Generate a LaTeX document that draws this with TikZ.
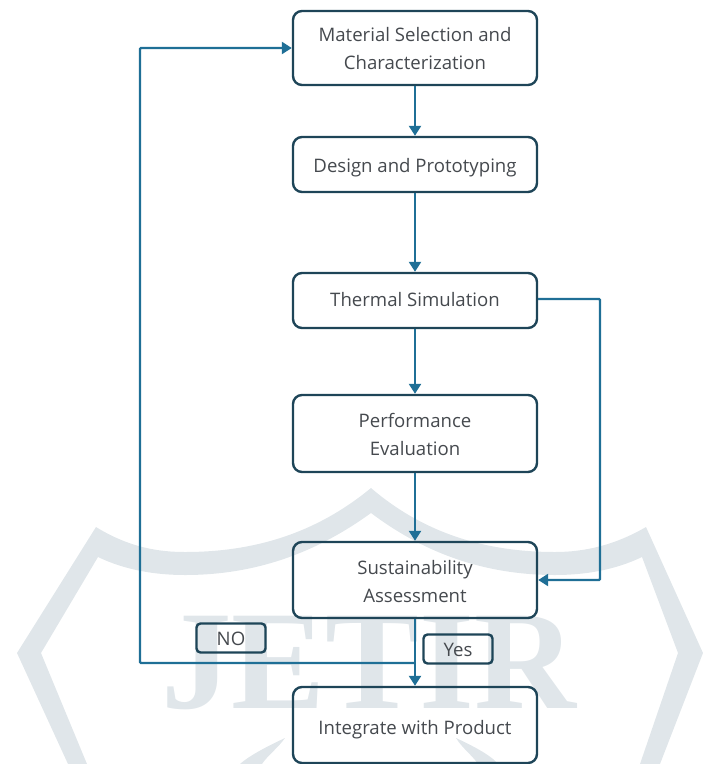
\documentclass[tikz,border=0pt]{standalone}
\usepackage{fontspec}
\setmainfont{Open Sans}
\newfontfamily\wmfont{Liberation Serif}
\usetikzlibrary{arrows.meta,calc}
\definecolor{boxline}{HTML}{1E4558}
\definecolor{flow}{HTML}{1F6F96}
\definecolor{wm}{HTML}{E0E6EA}
\definecolor{txt}{HTML}{45494E}
\tikzset{
  px/.style={x=1pt,y=-1pt},
  stepbox/.style={draw=boxline,line width=2.4pt,rounded corners=9pt,text=txt,font=\fontsize{18.6}{28}\selectfont,align=center,minimum width=244pt,inner sep=0pt},
  tagbox/.style={draw=boxline,line width=2.4pt,rounded corners=4pt,text=txt,font=\fontsize{18.6}{18}\selectfont,minimum width=69pt,minimum height=29pt,inner sep=0pt},
  flowline/.style={draw=flow,line width=2.4pt,-{Triangle[length=10pt,width=12pt]}},
  wmband/.style={fill=wm,draw=none}
}
\begin{document}
\begin{tikzpicture}[px]
\useasboundingbox (0,0) rectangle (715,764);
% watermark shield
\clip (0,0) rectangle (715,764);
\fill[wmband] (96,527) .. controls (130,548) and (160,552) .. (185,552)
  .. controls (260,552) and (320,530) .. (371,488)
  .. controls (420,530) and (480,552) .. (555,552)
  .. controls (585,552) and (615,545) .. (646,527)
  -- (703,653) -- (660,764) -- (640,764) -- (678,653) -- (642,557)
  .. controls (615,570) and (585,575) .. (555,575)
  .. controls (480,575) and (420,550) .. (371,513)
  .. controls (320,550) and (260,575) .. (185,575)
  .. controls (155,575) and (125,570) .. (98,557)
  -- (41,653) -- (87,764) -- (68,764) -- (17,653) -- cycle;
\fill[wmband] (285,738) .. controls (270,745) and (250,755) .. (240,764) -- (262,764) .. controls (268,755) and (278,748) .. (285,738) -- cycle;
\fill[wmband] (456,738) .. controls (471,745) and (491,755) .. (498,764) -- (478,764) .. controls (472,755) and (462,748) .. (456,738) -- cycle;
\node[text=wm,font=\wmfont\bfseries\fontsize{141}{141}\selectfont,inner sep=0pt,anchor=base] (mark) at (369,708) {JETIR};
% steps
\node[stepbox,minimum height=74pt] (mat) at (415,48) {\rule{0pt}{16pt}Material Selection and\\Characterization};
\node[stepbox,minimum height=55pt,text height=16pt,text depth=0pt] (des) at (415,164.5) {Design and Prototyping};
\node[stepbox,minimum height=55pt,text height=12pt,text depth=0pt] (the) at (415,300.5) {Thermal Simulation};
\node[stepbox,minimum height=77pt] (per) at (415,433.5) {\rule{0pt}{16pt}Performance\\Evaluation};
\node[stepbox,minimum height=76pt] (sus) at (415,580) {\rule{0pt}{18pt}Sustainability\\Assessment};
\node[stepbox,minimum height=76pt,text height=18pt,text depth=0pt] (int) at (415,725) {Integrate with Product};
\node[tagbox,text height=14pt,text depth=0pt] (no) at (231,638) {NO};
\node[tagbox,text height=15.4pt,text depth=0pt] (yes) at (458,649) {Yes};
% connectors
\draw[flowline] (mat) -- (des);
\draw[flowline] (des) -- (the);
\draw[flowline] (the) -- (per);
\draw[flowline] (per) -- (sus);
\draw[flowline] (sus) -- (int);
\coordinate (fork) at (415,663);
\coordinate (backlow) at (140,663);
\coordinate (backtop) at (140,48);
\draw[flowline,rounded corners=1pt] (fork) -- (backlow) -- (backtop) -- (mat.west);
\coordinate (rtop) at (600,299);
\coordinate (rlow) at (600,580);
\draw[flowline,rounded corners=1pt] (the.east |- rtop) -- (rtop) -- (rlow) -- (sus.east);
\end{tikzpicture}
\end{document}
